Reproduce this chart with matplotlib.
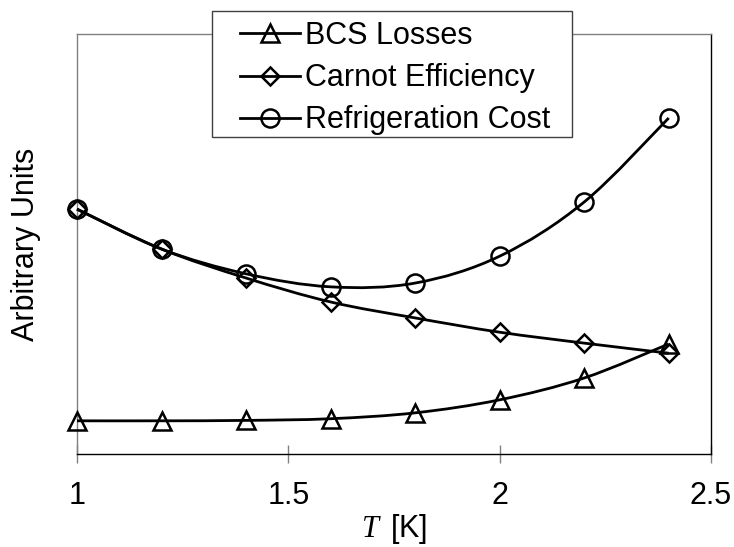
import matplotlib
matplotlib.use("Agg")
import matplotlib.pyplot as plt
from matplotlib.path import Path
from matplotlib.patches import PathPatch, Rectangle
from matplotlib.lines import Line2D
import numpy as np

plt.rcParams['font.family'] = ['Liberation Sans', 'DejaVu Sans']
plt.rcParams['mathtext.fontset'] = 'custom'
plt.rcParams['mathtext.it'] = 'Liberation Serif:italic'
plt.rcParams['mathtext.rm'] = 'Liberation Serif'

# Temperature [K]
temperature = [1.0, 1.2, 1.4, 1.6, 1.8, 2.0, 2.2, 2.4]

# Series in arbitrary units
bcs_losses = [0.79, 0.79, 0.80, 0.84, 0.98, 1.29, 1.81, 2.62]
carnot_efficiency = [5.83, 4.88, 4.19, 3.62, 3.24, 2.90, 2.64, 2.40]
refrigeration_cost = [5.83, 4.88, 4.29, 3.98, 4.07, 4.71, 6.00, 8.00]

series_names = ["BCS Losses", "Carnot Efficiency", "Refrigeration Cost"]
series_values = [bcs_losses, carnot_efficiency, refrigeration_cost]
series_markers = ["^", "D", "o"]
marker_sizes = [13, 9, 13]

x_ticks = [1, 1.5, 2, 2.5]
x_tick_labels = ["1", "1.5", "2", "2.5"]

W, H = 734, 547
FS = 22


def smooth_path(xs, ys):
    """Cardinal (Catmull-Rom) Bezier path through the points."""
    pts = np.column_stack([xs, ys]).astype(float)
    n = len(pts)
    verts = [pts[0]]
    codes = [Path.MOVETO]
    for i in range(n - 1):
        p0 = pts[i - 1] if i > 0 else pts[i]
        p1 = pts[i]
        p2 = pts[i + 1]
        p3 = pts[i + 2] if i + 2 < n else pts[i + 1]
        c1 = p1 + (p2 - p0) / 6.0
        c2 = p2 - (p3 - p1) / 6.0
        verts.extend([c1, c2, p2])
        codes.extend([Path.CURVE4] * 3)
    return Path(verts, codes)


fig = plt.figure(figsize=(W / 100, H / 100), dpi=100)
ax = fig.add_axes([77 / W, 93 / H, 634 / W, 420 / H])

line_w = 2.0
edge_w = 1.8
handles = []
for name, vals, mk, ms in zip(series_names, series_values, series_markers, marker_sizes):
    ax.add_patch(PathPatch(smooth_path(temperature, vals), facecolor='none',
                           edgecolor='black', lw=line_w, zorder=3, clip_on=False))
    ax.plot(temperature, vals, ls='none', marker=mk, ms=ms, mfc='none',
            mec='black', mew=edge_w, zorder=4, clip_on=False)
    handles.append(Line2D([], [], color='black', lw=line_w, marker=mk, ms=ms,
                          mfc='none', mec='black', mew=edge_w))

ax.set_xlim(1, 2.5)
ax.set_ylim(0, 10)
ax.set_xticks(x_ticks)
ax.set_xticklabels(x_tick_labels)
ax.set_yticks([])
ax.tick_params(axis='x', direction='inout', length=13, width=1, color='#808080',
               labelsize=FS, pad=13)

for side in ['left', 'top']:
    ax.spines[side].set_color('#808080')
    ax.spines[side].set_linewidth(1)
for side in ['bottom', 'right']:
    ax.spines[side].set_color('black')
    ax.spines[side].set_linewidth(1)

ax.set_xlabel(r'$T\,$ [K]', fontsize=FS, labelpad=1)
ax.set_ylabel('Arbitrary Units', fontsize=FS, va='center')
ax.yaxis.set_label_coords(-0.080, 0.5)

# Legend box (white, covers the top frame) and its entries
box = Rectangle((212 / W, (H - 137) / H), 360 / W, 126 / H,
                transform=fig.transFigure, facecolor='white',
                edgecolor='#404040', lw=1, zorder=9, clip_on=False)
ax.add_patch(box)
leg = ax.legend(handles, series_names, loc='upper left',
                bbox_to_anchor=(240 / W, 1 - 21 / H),
                bbox_transform=fig.transFigure, fontsize=FS, frameon=False,
                handlelength=1.96, handletextpad=0.16, labelspacing=0.4,
                borderpad=0, borderaxespad=0)
leg.set_zorder(10)

fig.savefig('out.png', dpi=100)
